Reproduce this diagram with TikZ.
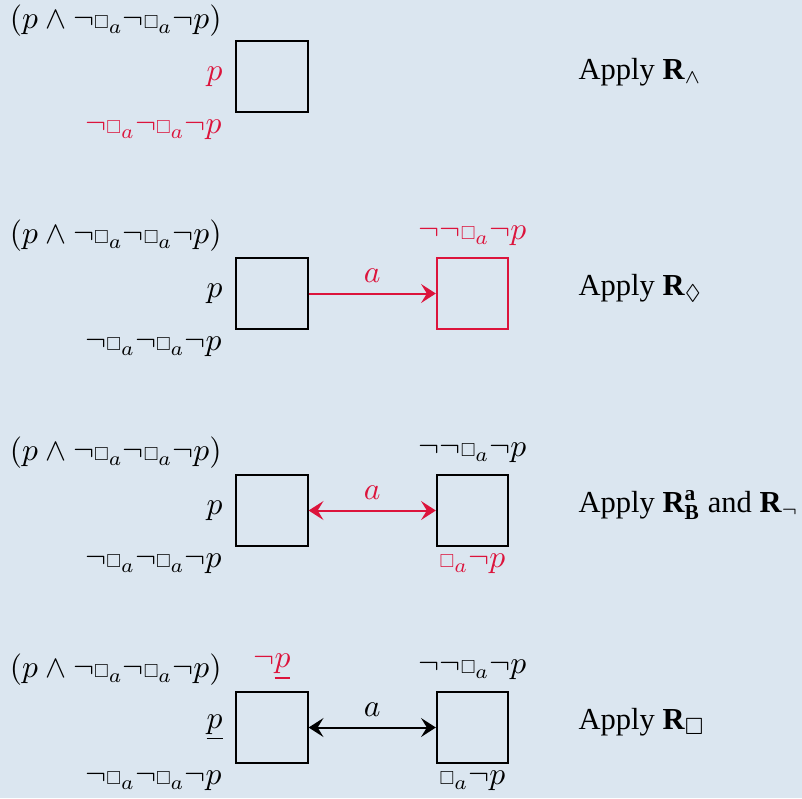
\documentclass[tikz,border=0pt]{standalone}
\usepackage{amsmath,amssymb}
\usepackage{fontspec}
\setmainfont{Liberation Serif}
\usetikzlibrary{arrows.meta,positioning}
\definecolor{bgblue}{RGB}{219,230,240}
\definecolor{hired}{RGB}{220,20,60}
\newcommand{\bx}{\mathord{\scalebox{0.62}{$\Box$}}}
\tikzset{
  world/.style={draw, line width=0.7pt, minimum size=0.87cm, inner sep=0pt},
  fml/.style={inner sep=1pt},
  acc/.style={{Stealth[length=1.8mm, width=2.3mm, inset=0.7mm]}-{Stealth[length=1.8mm, width=2.3mm, inset=0.7mm]}, line width=0.7pt},
  racc/.style={-{Stealth[length=1.8mm, width=2.3mm, inset=0.7mm]}, line width=0.7pt},
  rulelab/.style={anchor=base west, inner sep=0pt},
}

\begin{document}
\begin{tikzpicture}[x=0.0122cm, y=-0.0122cm, every node/.style={font=\fontsize{10.6}{13}\selectfont}]
  \fill[bgblue] (0,0) rectangle (802,798);
  \useasboundingbox (0,0) rectangle (802,798);
  % step 1
  \node[world] (w1) at (272,76.5) {};
  \node[fml, anchor=east] (f1) at (225,21) {$(p\wedge\neg\bx_a\neg\bx_a\neg p)$};
  \node[fml, anchor=east, text=hired] (p1) at (226,76.5) {$p$};
  \node[fml, anchor=east, text=hired] (g1) at (225,130) {$\neg\bx_a\neg\bx_a\neg p$};
  \node[rulelab] (r1) at (578,79) {Apply $\mathbf{R}_\wedge$};
  % step 2
  \node[world] (w2) at (272,293.5) {};
  \node[world, draw=hired] (v2) at (472.5,293.5) {};
  \draw[racc, hired] (w2) -- node[above=0pt] {$a$} (v2);
  \node[fml, anchor=east] (f2) at (225,236) {$(p\wedge\neg\bx_a\neg\bx_a\neg p)$};
  \node[fml, anchor=east] (p2) at (226,293.5) {$p$};
  \node[fml, anchor=east] (g2) at (225,347) {$\neg\bx_a\neg\bx_a\neg p$};
  \node[fml, text=hired] (h2) at (472.5,236) {$\neg\neg\bx_a\neg p$};
  \node[rulelab] (r2) at (578,295) {Apply $\mathbf{R}_\Diamond$};
  % step 3
  \node[world] (w3) at (272,510.5) {};
  \node[world] (v3) at (472.5,510.5) {};
  \draw[acc, hired] (w3) -- node[above=0pt] {$a$} (v3);
  \node[fml, anchor=east] (f3) at (225,453) {$(p\wedge\neg\bx_a\neg\bx_a\neg p)$};
  \node[fml, anchor=east] (p3) at (226,510.5) {$p$};
  \node[fml, anchor=east] (g3) at (225,564) {$\neg\bx_a\neg\bx_a\neg p$};
  \node[fml] (h3) at (472.5,453) {$\neg\neg\bx_a\neg p$};
  \node[fml, text=hired] (k3) at (472.5,564) {$\bx_a\neg p$};
  \node[rulelab] (r3) at (578,512) {Apply $\mathbf{R}^{\mathbf{a}}_{\mathbf{B}}$ and $\mathbf{R}_\neg$};
  % step 4
  \node[world] (w4) at (272,727.5) {};
  \node[world] (v4) at (472.5,727.5) {};
  \draw[acc] (w4) -- node[above=0pt] {$a$} (v4);
  \node[fml, anchor=east] (f4) at (225,670) {$(p\wedge\neg\bx_a\neg\bx_a\neg p)$};
  \node[fml, anchor=east] (p4) at (226,727.5) {$\underline{p}$};
  \node[fml, anchor=east] (g4) at (225,781) {$\neg\bx_a\neg\bx_a\neg p$};
  \node[fml, text=hired] (n4) at (272,667) {$\neg\underline{p}$};
  \node[fml] (h4) at (472.5,670) {$\neg\neg\bx_a\neg p$};
  \node[fml] (k4) at (472.5,781) {$\bx_a\neg p$};
  \node[rulelab] (r4) at (578,729) {Apply $\mathbf{R}_\Box$};
\end{tikzpicture}
\end{document}
